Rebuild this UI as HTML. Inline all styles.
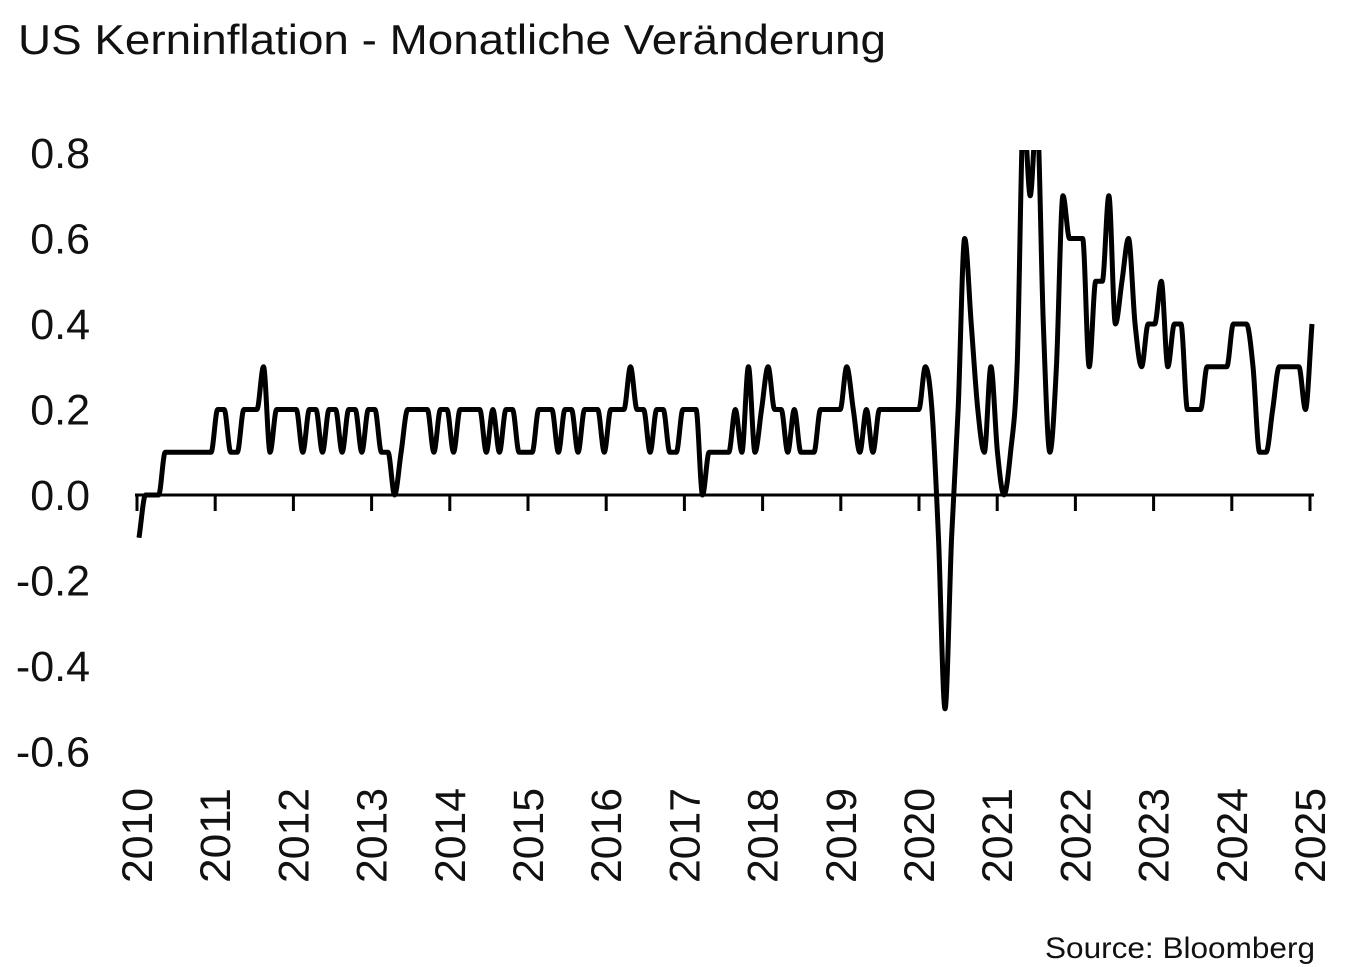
<!DOCTYPE html>
<html><head><meta charset="utf-8">
<style>
body{margin:0;background:#fff;}
svg{display:block;font-family:"Liberation Sans",sans-serif;}
</style></head>
<body>
<svg id="chart" width="1362" height="967">
<text x="18" y="54" font-size="42" textLength="868" lengthAdjust="spacingAndGlyphs" fill="#111">US Kerninflation - Monatliche Veränderung</text>
<text x="1315" y="958" font-size="30" text-anchor="end" textLength="270" lengthAdjust="spacingAndGlyphs" fill="#111">Source: Bloomberg</text>
<defs><clipPath id="clip"><rect x="120" y="150" width="1220" height="620"/></clipPath></defs>
<g id="yaxis"></g>
<g id="xaxis"></g>
<g clip-path="url(#clip)"><path id="line" fill="none" stroke="#000" stroke-width="5" stroke-linejoin="round"/></g>
</svg>
<script>
const yTicks=[0.8,0.6,0.4,0.2,0.0,-0.2,-0.4,-0.6];
const yTickLabels=["0.8","0.6","0.4","0.2","0.0","-0.2","-0.4","-0.6"];
const years=[2010,2011,2012,2013,2014,2015,2016,2017,2018,2019,2020,2021,2022,2023,2024,2025];
const values=[
-0.1,0,0,0,0.1,0.1,0.1,0.1,0.1,0.1,0.1,0.1,
0.2,0.2,0.1,0.1,0.2,0.2,0.2,0.3,0.1,0.2,0.2,0.2,
0.2,0.1,0.2,0.2,0.1,0.2,0.2,0.1,0.2,0.2,0.1,0.2,
0.2,0.1,0.1,0,0.1,0.2,0.2,0.2,0.2,0.1,0.2,0.2,
0.1,0.2,0.2,0.2,0.2,0.1,0.2,0.1,0.2,0.2,0.1,0.1,
0.1,0.2,0.2,0.2,0.1,0.2,0.2,0.1,0.2,0.2,0.2,0.1,
0.2,0.2,0.2,0.3,0.2,0.2,0.1,0.2,0.2,0.1,0.1,0.2,
0.2,0.2,0,0.1,0.1,0.1,0.1,0.2,0.1,0.3,0.1,0.2,
0.3,0.2,0.2,0.1,0.2,0.1,0.1,0.1,0.2,0.2,0.2,0.2,
0.3,0.2,0.1,0.2,0.1,0.2,0.2,0.2,0.2,0.2,0.2,0.2,
0.3,0.2,-0.1,-0.5,-0.1,0.2,0.6,0.4,0.2,0.1,0.3,0.1,
0,0.1,0.3,0.9,0.7,0.9,0.4,0.1,0.3,0.7,0.6,0.6,
0.6,0.3,0.5,0.5,0.7,0.4,0.5,0.6,0.4,0.3,0.4,0.4,
0.5,0.3,0.4,0.4,0.2,0.2,0.2,0.3,0.3,0.3,0.3,0.4,
0.4,0.4,0.3,0.1,0.1,0.2,0.3,0.3,0.3,0.3,0.2,0.4
];
const NS="http://www.w3.org/2000/svg";
const y=v=>495-(v*(495-153)/0.8);
const xYear=yr=>137+(yr-2010)*(1310-137)/15;
const xIdx=i=>139+i*(1312-139)/(values.length-1);
const ya=document.getElementById('yaxis');
yTicks.forEach((t,k)=>{
  const tx=document.createElementNS(NS,'text');
  tx.setAttribute('x',90);tx.setAttribute('y',y(t)+15);
  tx.setAttribute('text-anchor','end');tx.setAttribute('font-size','43');tx.setAttribute('fill','#111');
  tx.textContent=yTickLabels[k];
  
  
  ya.appendChild(tx);
});
const xa=document.getElementById('xaxis');
const ax=document.createElementNS(NS,'line');
ax.setAttribute('x1',135);ax.setAttribute('x2',1314);ax.setAttribute('y1',y(0));ax.setAttribute('y2',y(0));
ax.setAttribute('stroke','#000');ax.setAttribute('stroke-width','3');


xa.appendChild(ax);
years.forEach(yr=>{
  const X=xYear(yr);
  const tk=document.createElementNS(NS,'line');
  tk.setAttribute('x1',X);tk.setAttribute('x2',X);tk.setAttribute('y1',y(0));tk.setAttribute('y2',y(0)+16);
  tk.setAttribute('stroke','#000');tk.setAttribute('stroke-width','3');
  
  
  xa.appendChild(tk);
  const tx=document.createElementNS(NS,'text');
  tx.setAttribute('transform',`translate(${X+15},788) rotate(-90)`);
  tx.setAttribute('text-anchor','end');tx.setAttribute('font-size','43');tx.setAttribute('fill','#111');
  tx.setAttribute('textLength','95');tx.setAttribute('lengthAdjust','spacingAndGlyphs');
  tx.textContent=yr;
  
  
  xa.appendChild(tx);
});
// monotone cubic path
const pts=values.map((v,i)=>[xIdx(i),y(v)]);
const n=pts.length,d=[],m=[];
for(let i=0;i<n-1;i++)d.push((pts[i+1][1]-pts[i][1])/(pts[i+1][0]-pts[i][0]));
for(let i=0;i<n;i++){
  if(i===0)m.push(d[0]);else if(i===n-1)m.push(d[n-2]);
  else m.push(d[i-1]*d[i]<=0?0:(d[i-1]+d[i])/2);
}
let p=`M${pts[0][0]},${pts[0][1]}`;
for(let i=0;i<n-1;i++){
  const h=(pts[i+1][0]-pts[i][0])/3;
  p+=`C${pts[i][0]+h},${pts[i][1]+m[i]*h} ${pts[i+1][0]-h},${pts[i+1][1]-m[i+1]*h} ${pts[i+1][0]},${pts[i+1][1]}`;
}
document.getElementById('line').setAttribute('d',p);
</script>
</body></html>
